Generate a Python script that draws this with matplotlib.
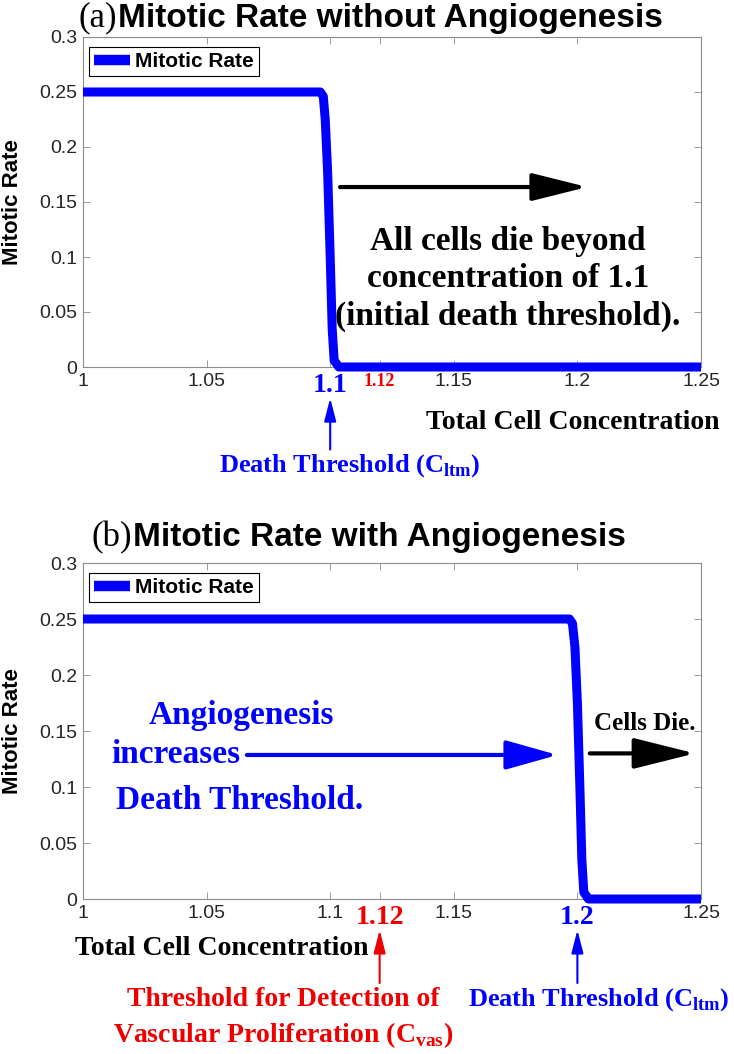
import matplotlib
matplotlib.use('Agg')
import matplotlib.pyplot as plt

plt.rcParams['mathtext.fontset'] = 'custom'
plt.rcParams['mathtext.rm'] = 'Liberation Serif'
plt.rcParams['mathtext.bf'] = 'Liberation Serif:bold'

SANS = 'Liberation Sans'
SERIF = 'Liberation Serif'
BLUE = '#0000ff'
RED = '#ee0000'
AXC = '#8c8c8c'

# ── data ──────────────────────────────────────────────────────────────── #
conc_a = [1.0, 1.0960, 1.0972, 1.0980, 1.0990, 1.1000, 1.1008, 1.1016, 1.1035, 1.25]
rate_a = [0.25, 0.25, 0.246, 0.225, 0.175, 0.10, 0.035, 0.006, 0.0, 0.0]
conc_b = [1.0, 1.1968, 1.1980, 1.1990, 1.2000, 1.2010, 1.2018, 1.2026, 1.2045, 1.25]
rate_b = [0.25, 0.25, 0.246, 0.225, 0.175, 0.10, 0.035, 0.006, 0.0, 0.0]

xticks = [1, 1.05, 1.1, 1.12, 1.15, 1.2, 1.25]
xtick_labels = ['1', '1.05', '1.1', '1.12', '1.15', '1.2', '1.25']
yticks = [0, 0.05, 0.1, 0.15, 0.2, 0.25, 0.3]
ytick_labels = ['0', '0.05', '0.1', '0.15', '0.2', '0.25', '0.3']

death_a = 1.1
death_b = 1.2
c_vas = 1.12

# ── figure ────────────────────────────────────────────────────────────── #
W, H = 734, 1054
fig = plt.figure(figsize=(W / 100, H / 100), dpi=100)
ax_a = fig.add_axes([83 / W, 1 - 367 / H, 618 / W, 330 / H])
ax_b = fig.add_axes([83 / W, 1 - 899 / H, 618 / W, 336 / H])


def style(ax, special):
    ax.set_xlim(1, 1.25)
    ax.set_ylim(0, 0.3)
    ax.set_xticks(xticks, xtick_labels)
    ax.set_yticks(yticks, ytick_labels)
    for s in ax.spines.values():
        s.set_color(AXC)
        s.set_linewidth(0.8)
    ax.tick_params(direction='in', top=True, right=True, length=5, width=0.6,
                   color=AXC, labelcolor='#262626', labelsize=14, pad=4)
    for lbl in ax.get_xticklabels() + ax.get_yticklabels():
        lbl.set_fontfamily(SANS)
    for i, lbl in enumerate(ax.get_xticklabels()):
        if i in special:
            col, size = special[i]
            lbl.set_color(col)
            lbl.set_fontsize(size)
            lbl.set_fontfamily(SERIF)
            lbl.set_fontweight('bold')
    ax.set_ylabel('Mitotic Rate', fontsize=16, fontweight='bold', family=SANS)
    ax.yaxis.set_label_coords(-0.097, 0.5)


def arrow(ax, tail, tip, color, lw, hl, hw, ycoords='data'):
    ax.annotate('', xy=tip, xytext=tail,
                xycoords=('data', ycoords), textcoords=('data', ycoords),
                annotation_clip=False,
                arrowprops=dict(arrowstyle=f'-|>,head_length={hl},head_width={hw}',
                                color=color, lw=lw, shrinkA=0, shrinkB=0,
                                mutation_scale=1))


def curve(ax, x, y):
    ax.plot(x, y, color=BLUE, lw=6.5, solid_capstyle='butt',
            solid_joinstyle='round', clip_on=False, label='Mitotic Rate', zorder=3)
    leg = ax.legend(loc='upper left', bbox_to_anchor=(0.01, 0.97), borderaxespad=0,
                    prop=dict(family=SANS, weight='bold', size=15),
                    handlelength=1.7, handletextpad=0.25, borderpad=0.25,
                    fancybox=False, framealpha=1, edgecolor='black')
    leg.get_frame().set_linewidth(0.8)
    leg.get_lines()[0].set_linewidth(7.5)


# ── (a) ───────────────────────────────────────────────────────────────── #
curve(ax_a, conc_a, rate_a)
style(ax_a, {2: (BLUE, 20), 3: (RED, 13)})

fig.text(118 / W, 1 - 18 / H, 'Mitotic Rate without Angiogenesis', ha='left',
         va='center', fontsize=24, fontweight='bold', family=SANS)
fig.text(117 / W, 1 - 18 / H, '(a)', ha='right', va='center', fontsize=25,
         family=SERIF)

arrow(ax_a, (1.104, 0.1636), (1.204, 0.1636), 'black', 3, 34, 8.5)
ax_a.text(1.172, 0.080, 'All cells die beyond\nconcentration of 1.1\n(initial death threshold).',
          ha='center', va='center', fontsize=24, fontweight='bold', family=SERIF,
          linespacing=1.25)

ax_a.text(0.792, -0.167, 'Total Cell Concentration', transform=ax_a.transAxes,
          ha='center', va='center', fontsize=20, fontweight='bold', family=SERIF)
arrow(ax_a, (death_a, -0.25), (death_a, -0.094), BLUE, 1.5, 14, 3.6, 'axes fraction')
ax_a.text(1.108, -0.30, 'Death Threshold (C$_{\\mathbf{ltm}}$)',
          transform=ax_a.get_xaxis_transform(), ha='center', va='center',
          fontsize=19, fontweight='bold', family=SERIF, color=BLUE)

# ── (b) ───────────────────────────────────────────────────────────────── #
curve(ax_b, conc_b, rate_b)
style(ax_b, {3: (RED, 20), 5: (BLUE, 20)})

fig.text(133 / W, 1 - 538 / H, 'Mitotic Rate with Angiogenesis', ha='left',
         va='center', fontsize=24, fontweight='bold', family=SANS)
fig.text(132 / W, 1 - 538 / H, '(b)', ha='right', va='center', fontsize=25,
         family=SERIF)

ax_b.text(1.064, 0.164, 'Angiogenesis', ha='center', va='center', fontsize=24,
          fontweight='bold', family=SERIF, color=BLUE)
ax_b.text(1.0635, 0.1286, 'increases', ha='right', va='center', fontsize=24,
          fontweight='bold', family=SERIF, color=BLUE)
ax_b.text(1.0635, 0.088, 'Death Threshold.', ha='center', va='center', fontsize=24,
          fontweight='bold', family=SERIF, color=BLUE)
arrow(ax_b, (1.0663, 0.1286), (1.192, 0.1286), BLUE, 3, 32, 9)

ax_b.text(1.2273, 0.157, 'Cells Die.', ha='center', va='center', fontsize=18,
          fontweight='bold', family=SERIF)
arrow(ax_b, (1.205, 0.130), (1.2476, 0.130), 'black', 3, 38, 9.5)

ax_b.text(0.225, -0.146, 'Total Cell Concentration', transform=ax_b.transAxes,
          ha='center', va='center', fontsize=20, fontweight='bold', family=SERIF)
arrow(ax_b, (c_vas, -0.25), (c_vas, -0.092), RED, 1.5, 14, 3.6, 'axes fraction')
arrow(ax_b, (death_b, -0.25), (death_b, -0.092), BLUE, 1.5, 14, 3.6, 'axes fraction')
ax_b.text(1.081, -0.30, 'Threshold for Detection of', transform=ax_b.get_xaxis_transform(),
          ha='center', va='center', fontsize=20, fontweight='bold', family=SERIF,
          color=RED)
ax_b.text(1.081, -0.405, 'Vascular Proliferation (C$_{\\mathbf{vas}}$)',
          transform=ax_b.get_xaxis_transform(), ha='center', va='center',
          fontsize=20, fontweight='bold', family=SERIF, color=RED)
ax_b.text(1.2087, -0.30, 'Death Threshold (C$_{\\mathbf{ltm}}$)',
          transform=ax_b.get_xaxis_transform(), ha='center', va='center',
          fontsize=19, fontweight='bold', family=SERIF, color=BLUE)

fig.savefig('out.png', dpi=100)
